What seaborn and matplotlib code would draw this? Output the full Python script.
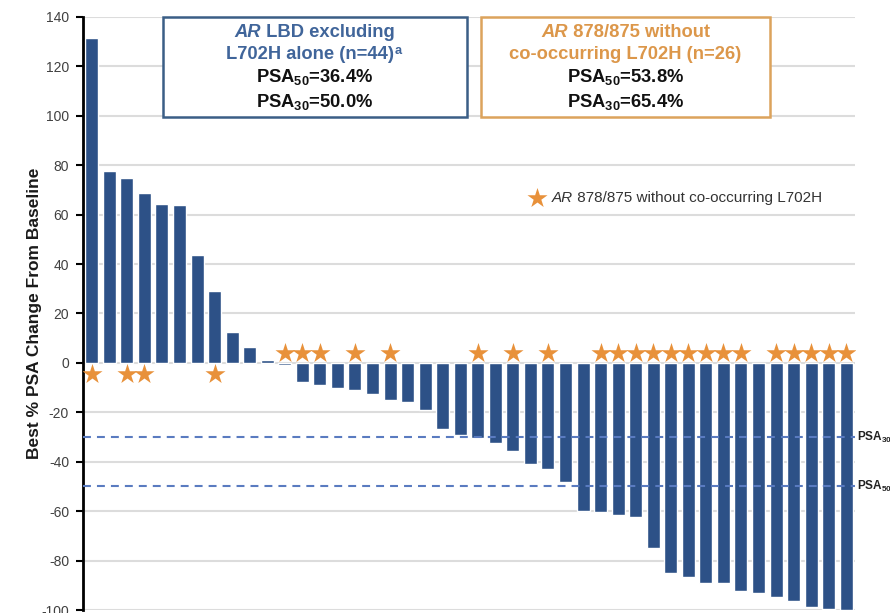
import numpy as np
import pandas as pd
import seaborn as sns
import matplotlib.pyplot as plt
from matplotlib.patches import Rectangle
from matplotlib.offsetbox import TextArea, HPacker, VPacker, AnnotationBbox

# Best % PSA change from baseline, one bar per patient (sorted waterfall)
patients = list(range(1, 45))
best_psa_change = [131.5, 77.8, 75.0, 68.9, 64.3, 64.0, 43.6, 29.2, 12.6, 6.5, 1.1, -0.7,
                   -7.8, -9.1, -10.0, -10.8, -12.7, -15.1, -15.9, -19.2, -26.9, -29.1, -30.4, -32.3,
                   -35.7, -40.8, -43.0, -48.0, -60.0, -60.5, -61.6, -62.3, -75.1, -85.1, -86.8, -89.2,
                   -89.2, -92.3, -93.2, -94.7, -96.4, -98.6, -99.6, -100.0]
# 1 = AR 878/875 without co-occurring L702H
ar878_875 = [1, 0, 1, 1, 0, 0, 0, 1, 0, 0, 0, 1,
             1, 1, 0, 1, 0, 1, 0, 0, 0, 0, 1, 0,
             1, 0, 1, 0, 0, 1, 1, 1, 1, 1, 1, 1,
             1, 1, 0, 1, 1, 1, 1, 1]
yticks = list(range(-100, 141, 20))
thresholds = [-30, -50]
threshold_labels = [r"PSA$_{30}$", r"PSA$_{50}$"]

BAR = "#2d5187"
ORANGE = "#e8913a"
BOX_BLUE = "#3b5e86"
TXT_BLUE = "#40659a"
BOX_ORANGE = "#dca35c"
TXT_ORANGE = "#dc974a"
DASH = "#5a7bc0"

sns.set_style("white")
plt.rcParams["font.family"] = ["Liberation Sans", "DejaVu Sans"]
plt.rcParams["axes.unicode_minus"] = False
plt.rcParams["mathtext.fontset"] = "custom"
plt.rcParams["mathtext.rm"] = "Liberation Sans:bold"
plt.rcParams["mathtext.bf"] = "Liberation Sans:bold"
plt.rcParams["mathtext.it"] = "Liberation Sans:italic:bold"

W, H = 890, 613
fig = plt.figure(figsize=(W / 100, H / 100), dpi=100)
ax = fig.add_axes([83 / W, 3 / H, 772 / W, 593 / H])

df = pd.DataFrame({"patient": patients, "change": best_psa_change, "star": ar878_875})
sns.barplot(data=df, x="patient", y="change", color=BAR, saturation=1,
            width=0.74, ax=ax, zorder=2)

# star markers: below positive bars, above negative bars
idx = np.arange(len(df))
is_star = df["star"].to_numpy() == 1
vals = df["change"].to_numpy()
star_y = np.where(vals > 0, -4.5, 4.0)
ax.scatter(idx[is_star], star_y[is_star], marker="*", s=230, color=ORANGE,
           linewidths=0, zorder=4)

ax.set_xlim(-0.5, len(df) - 0.5)
ax.set_ylim(-100, 140)
ax.set_yticks(yticks)
ax.set_xticks([])
ax.set_xlabel("")
ax.yaxis.grid(True, color="#dcdcdc", lw=1.5)
ax.set_axisbelow(True)
for s in ["top", "right", "bottom"]:
    ax.spines[s].set_visible(False)
ax.spines["left"].set_linewidth(2)
ax.spines["left"].set_color("black")
ax.tick_params(axis="y", length=5, width=1.5, color="black", labelsize=10,
               labelcolor="#404040", pad=5, left=True)
ax.set_ylabel("Best % PSA Change From Baseline", fontsize=12.5,
              fontweight="bold", color="#1a1a1a")
ax.yaxis.set_label_coords(-0.053, 0.5)

for yv, lab in zip(thresholds, threshold_labels):
    ax.axhline(yv, color=DASH, ls=(0, (3.8, 2.9)), lw=1.5, zorder=3)
    ax.text(1.003, yv, lab, transform=ax.get_yaxis_transform(), fontsize=8.5,
            fontweight="bold", va="center", ha="left", color="#222222", clip_on=False)


def line(parts, size):
    areas = [TextArea(t, textprops=dict(fontsize=size, **kw)) for t, kw in parts]
    return HPacker(children=areas, pad=0, sep=0, align="baseline")


def info_box(x0, x1, y_top, y_bot, edge, lines):
    fig.add_artist(Rectangle((x0 / W, (H - y_bot) / H), (x1 - x0) / W, (y_bot - y_top) / H,
                             transform=fig.transFigure, facecolor="white",
                             edgecolor=edge, lw=1.8, zorder=5))
    vb = VPacker(children=lines, pad=0, sep=3.2, align="center")
    ab = AnnotationBbox(vb, ((x0 + x1) / 2, H - (y_top + y_bot) / 2 - 1), xycoords="figure pixels",
                        frameon=False, box_alignment=(0.5, 0.5), zorder=6)
    fig.add_artist(ab)


fs = 13.2
bi_b = dict(style="italic", weight="bold", color=TXT_BLUE)
b_b = dict(weight="bold", color=TXT_BLUE)
bi_o = dict(style="italic", weight="bold", color=TXT_ORANGE)
b_o = dict(weight="bold", color=TXT_ORANGE)
b_k = dict(weight="bold", color="#111111")

info_box(163, 467, 17, 117, BOX_BLUE, [
    line([("AR", bi_b), (" LBD excluding", b_b)], fs),
    line([("L702H alone (n=44)", b_b), (r"$^{\mathbf{a}}$", b_b)], fs),
    line([(r"PSA$_{50}$=36.4%", b_k)], fs),
    line([(r"PSA$_{30}$=50.0%", b_k)], fs),
])
info_box(481, 770, 17, 117, BOX_ORANGE, [
    line([("AR", bi_o), (" 878/875 without", b_o)], fs),
    line([("co-occurring L702H (n=26)", b_o)], fs),
    line([(r"PSA$_{50}$=53.8%", b_k)], fs),
    line([(r"PSA$_{30}$=65.4%", b_k)], fs),
])

# legend entry for the star markers
ax.scatter([(537 - 83) / 772], [(H - 198 - 3) / 593], transform=ax.transAxes,
           marker="*", s=230, color=ORANGE, linewidths=0, zorder=6, clip_on=False)
leg = line([("AR", dict(style="italic", color="#333333")),
            (" 878/875 without co-occurring L702H", dict(color="#333333"))], 11)
fig.add_artist(AnnotationBbox(leg, (552, H - 198), xycoords="figure pixels", frameon=False,
                              box_alignment=(0, 0.5), zorder=6))

fig.savefig("out.png", dpi=100)
